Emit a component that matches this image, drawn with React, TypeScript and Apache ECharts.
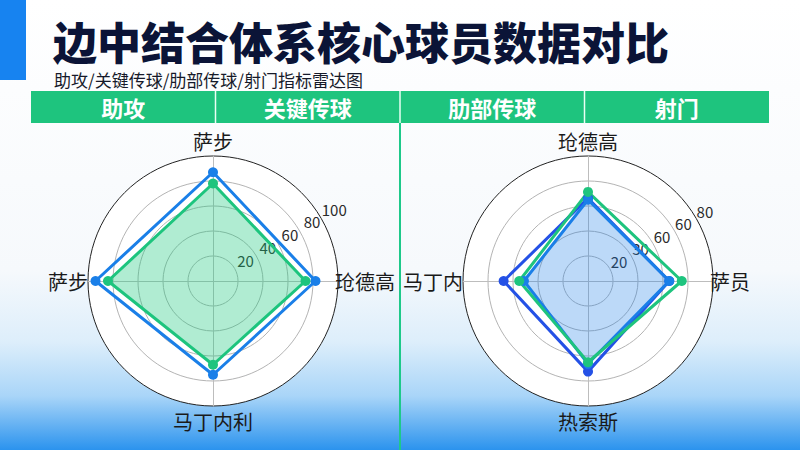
import React, { useEffect, useRef } from "react";
import * as echarts from "echarts";

const FONT = '"Noto Sans CJK SC", "Noto Sans", sans-serif';

const TITLE = "边中结合体系核心球员数据对比";
const SUBTITLE = "助攻/关键传球/肋部传球/射门指标雷达图";
const HEADER_TABS = ["助攻", "关键传球", "肋部传球", "射门"];

// left radar: top, left, bottom, right (counter-clockwise from top)
const LEFT_INDICATORS = ["萨步", "萨步", "马丁内利", "玱德高"];
const LEFT_MAX = 100;
const LEFT_TICKS = ["20", "40", "60", "80", "100"];
const LEFT_BLUE = [87, 94, 75, 82];
const LEFT_GREEN = [78, 84, 67, 74];

// right radar
const RIGHT_INDICATORS = ["玱德高", "马丁内", "热索斯", "萨员"];
const RIGHT_MAX = 80;
const RIGHT_TICKS = ["20", "30", "60", "60", "80"];
const RIGHT_ROYAL = [53, 54, 58, 52];
const RIGHT_BLUE = [52, 41, 53, 52];
const RIGHT_GREEN = [57, 44, 52, 60];

const GREEN = "#1ec47e";
const BLUE = "#1a7fe8";
const ROYAL = "#2451e6";

// slot of each indicator around the circle, counter-clockwise from top
const SLOTS = ["t", "l", "b", "r"];

const radarBase = (center: number[], names: string[], max: number) => ({
  center,
  radius: 125,
  shape: "circle",
  startAngle: 90,
  splitNumber: 5,
  z: 0,
  nameGap: -3,
  indicator: names.map((n, i) => ({ name: n, max, slot: SLOTS[i] })),
  axisName: {
    color: "#1a1a1a",
    fontSize: 20,
    fontFamily: FONT,
    formatter: (name: string, ind: any) => `{${ind && ind.slot ? ind.slot : "r"}|${name}}`,
    rich: {
      t: { fontSize: 20, fontFamily: FONT, color: "#1a1a1a", padding: [0, 0, 8, 0] },
      b: { fontSize: 20, fontFamily: FONT, color: "#1a1a1a", padding: [9, 0, 0, 0] },
      l: { fontSize: 20, fontFamily: FONT, color: "#1a1a1a", padding: [0, 3, 0, 0] },
      r: { fontSize: 20, fontFamily: FONT, color: "#1a1a1a" },
    },
  },
  splitArea: { show: true, areaStyle: { color: ["#ffffff"] } },
  splitLine: {
    lineStyle: {
      color: ["#b4b4b4", "#b4b4b4", "#b4b4b4", "#b4b4b4", "#b4b4b4", "#222222"],
      width: 1,
    },
  },
  axisLine: { lineStyle: { color: "#bdbdbd", width: 1 } },
});

const lineSeries = (radarIndex: number, value: number[], color: string, area?: string) => ({
  type: "radar",
  radarIndex,
  symbol: "circle",
  symbolSize: 10,
  lineStyle: { color, width: 3 },
  itemStyle: { color },
  areaStyle: area ? { color: area } : undefined,
  data: [{ value }],
});

const App = () => {
  const chartRef = useRef<HTMLDivElement>(null);

  useEffect(() => {
    const dom = chartRef.current;
    if (!dom) return;
    const chart = echarts.init(dom, null, { renderer: "svg" });

    const tabW = (769 - 31) / HEADER_TABS.length;

    const option: any = {
      animation: false,
      backgroundColor: new echarts.graphic.LinearGradient(0, 0, 0, 1, [
        { offset: 0, color: "#ffffff" },
        { offset: 0.6, color: "#f6f9fc" },
        { offset: 0.76, color: "#ddeefb" },
        { offset: 0.88, color: "#a9d5f8" },
        { offset: 1, color: "#2b93ee" },
      ]),
      title: [
        {
          text: TITLE,
          left: 53,
          top: 19,
          padding: 0,
          textStyle: {
            fontSize: 44,
            lineHeight: 44,
            fontWeight: 900,
            color: "#0b1437",
            fontFamily: FONT,
          },
        },
        {
          text: SUBTITLE,
          left: 54,
          top: 70,
          padding: 0,
          textStyle: {
            fontSize: 17,
            lineHeight: 18,
            fontWeight: "normal",
            color: "#161a2a",
            fontFamily: FONT,
          },
        },
      ],
      radar: [
        radarBase([213, 281], LEFT_INDICATORS, LEFT_MAX),
        radarBase([588, 281], RIGHT_INDICATORS, RIGHT_MAX),
      ],
      // polar axes only used to place the ring value labels on a diagonal
      polar: [
        { center: [213, 279], radius: [12, 140] },
        { center: [588, 279], radius: [11, 135] },
      ],
      angleAxis: [
        { polarIndex: 0, startAngle: 30, show: false, type: "value", min: 0, max: 360 },
        { polarIndex: 1, startAngle: 30, show: false, type: "value", min: 0, max: 360 },
      ],
      radiusAxis: [LEFT_TICKS, RIGHT_TICKS].map((ticks, i) => ({
        polarIndex: i,
        type: "value",
        min: 0,
        max: ticks.length,
        interval: 1,
        z: 1,
        axisLine: { show: false },
        axisTick: { show: false },
        splitLine: { show: false },
        axisLabel: {
          show: true,
          margin: 0,
          align: "center",
          verticalAlign: "middle",
          color: "#2a2a2a",
          fontSize: 15,
          fontFamily: FONT,
          showMinLabel: false,
          formatter: (v: number) => (v >= 1 ? ticks[Math.round(v) - 1] : ""),
        },
      })),
      series: [
        lineSeries(0, LEFT_BLUE, BLUE),
        lineSeries(0, LEFT_GREEN, GREEN, "rgba(30,200,126,0.5)"),
        lineSeries(1, RIGHT_ROYAL, ROYAL),
        lineSeries(1, RIGHT_BLUE, BLUE, "rgba(26,127,232,0.42)"),
        lineSeries(1, RIGHT_GREEN, GREEN),
      ],
      graphic: [
        { type: "rect", shape: { x: 0, y: 0, width: 26, height: 80 }, style: { fill: "#1783f0" } },
        { type: "rect", shape: { x: 31, y: 91, width: 738, height: 32 }, style: { fill: GREEN } },
        ...HEADER_TABS.slice(1).map((_, i) => ({
          type: "line",
          shape: { x1: 31 + tabW * (i + 1), y1: 91, x2: 31 + tabW * (i + 1), y2: 123 },
          style: { stroke: "#e9fff4", lineWidth: 1.5 },
        })),
        ...HEADER_TABS.map((t, i) => ({
          type: "text",
          x: 31 + tabW * (i + 0.5),
          y: 107,
          style: {
            text: t,
            fill: "#ffffff",
            fontSize: 22,
            fontWeight: "bold",
            fontFamily: FONT,
            align: "center",
            verticalAlign: "middle",
          },
        })),
        {
          type: "line",
          shape: { x1: 400, y1: 123, x2: 400, y2: 450 },
          style: { stroke: "#1ec98a", lineWidth: 2 },
        },
      ],
    };

    chart.setOption(option);
    return () => {
      chart.dispose();
    };
  }, []);

  return (
    <div
      ref={chartRef}
      style={{ position: "fixed", left: 0, top: 0, width: 800, height: 450 }}
    ></div>
  );
};

export default App;
